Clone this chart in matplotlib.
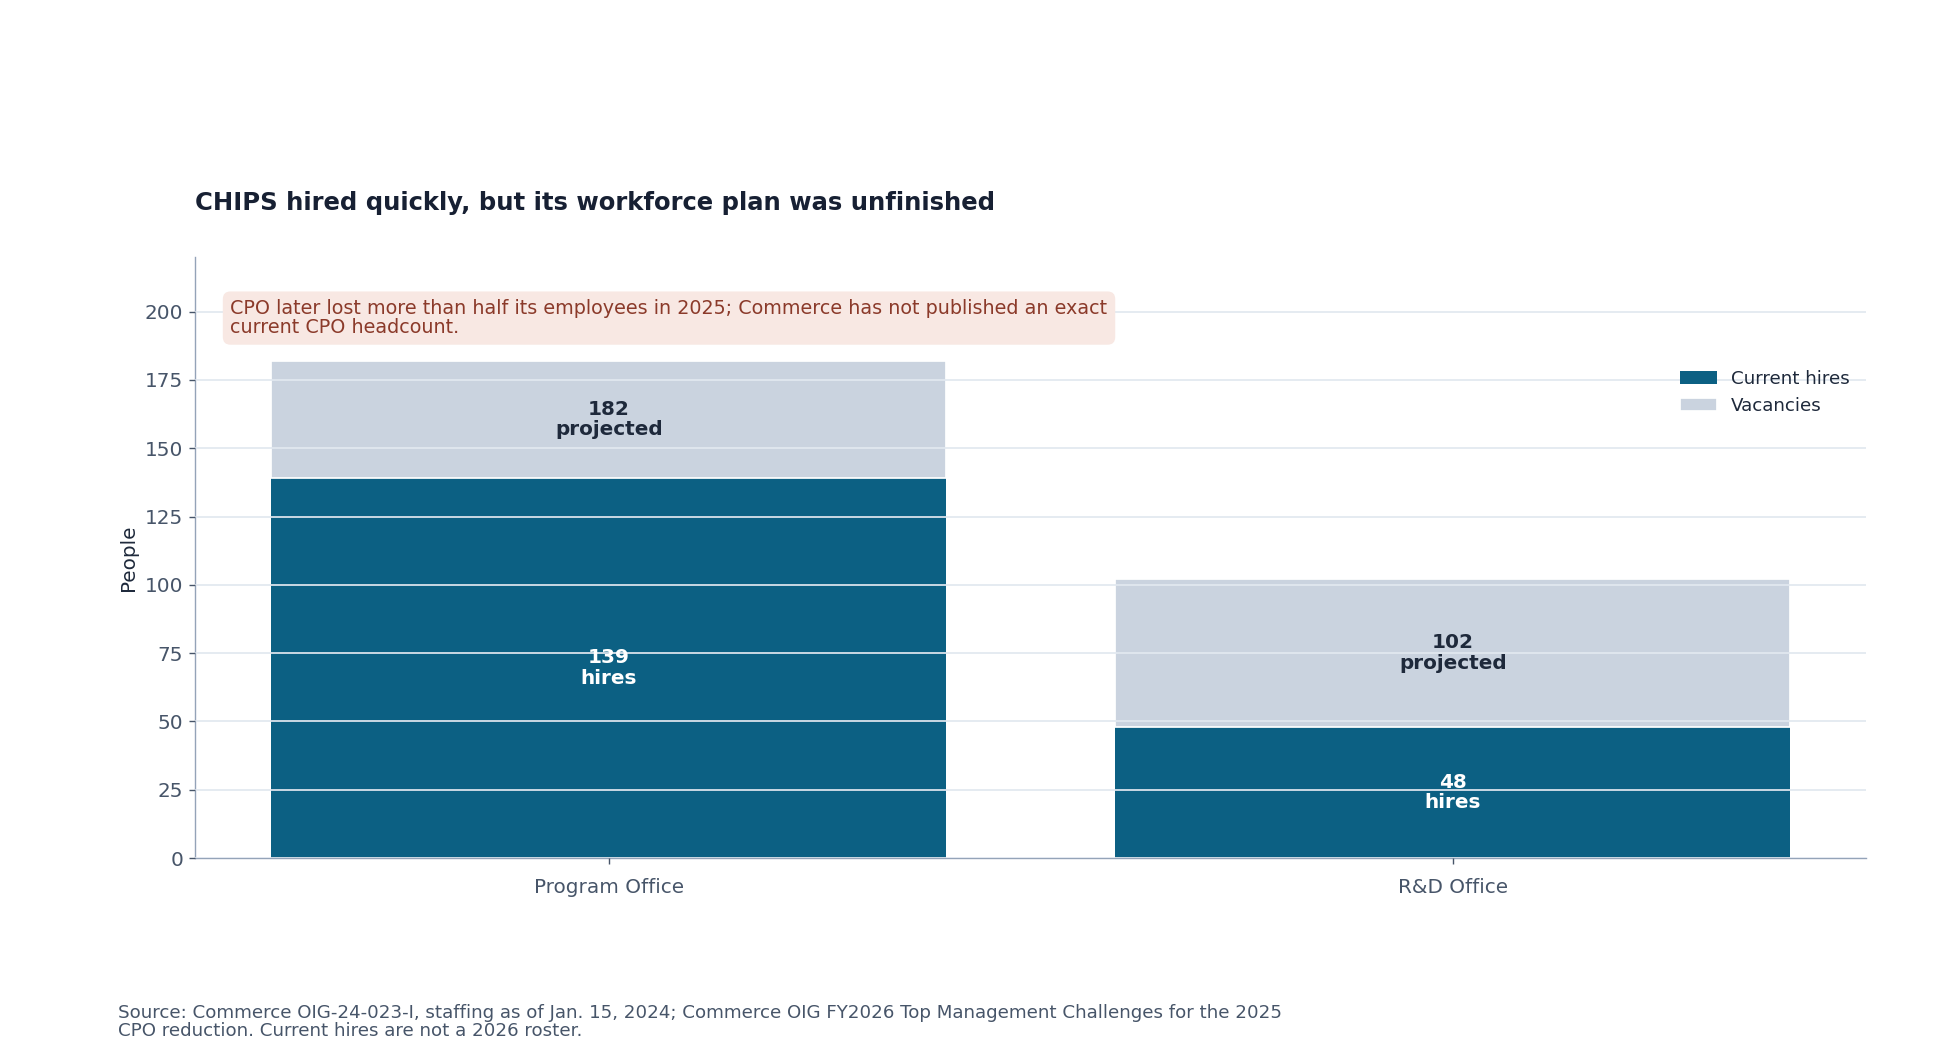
import matplotlib
matplotlib.use("Agg")
import matplotlib.pyplot as plt
import numpy as np

categories = ["Program Office", "R&D Office"]
hires = [139, 48]
projected = [182, 102]
vacancies = [p - h for p, h in zip(projected, hires)]

fig = plt.figure(figsize=(15.552, 8.496), dpi=125)
ax = fig.add_axes([0.1005, 0.192, 0.8595, 0.566])
x = np.arange(len(categories))
c_h, c_v = "#0c6083", "#cad3df"
ax.bar(x, hires, 0.8, color=c_h, label="Current hires", zorder=1)
ax.bar(x, vacancies, 0.8, bottom=hires, color=c_v, label="Vacancies", zorder=1,
       edgecolor="white", linewidth=1)
ax.set_axisbelow(False)
ax.yaxis.grid(True, color="#e2e8f0", linewidth=1, zorder=2)
ax.set_ylim(0, 220)
ax.set_xlim(-0.49, 1.49)
ax.set_yticks(range(0, 201, 25))
ax.set_xticks(x, categories)
ax.tick_params(labelsize=11.5, colors="#475569")
ax.tick_params(axis="x", pad=8)
for s in ["top", "right"]:
    ax.spines[s].set_visible(False)
for s in ["left", "bottom"]:
    ax.spines[s].set_color("#94a3b8")
ax.set_ylabel("People", fontsize=11.5, color="#1e293b")

for i in range(len(categories)):
    ax.text(x[i], hires[i] / 2, f"{hires[i]}\nhires", ha="center", va="center",
            color="white", fontsize=11.5, fontweight="bold", linespacing=1.1, zorder=3)
    ax.text(x[i], (hires[i] + projected[i]) / 2, f"{projected[i]}\nprojected", ha="center",
            va="center", color="#1e293b", fontsize=11.5, fontweight="bold", linespacing=1.1, zorder=3)

ax.text(0.021, 0.93, "CPO later lost more than half its employees in 2025; Commerce has not published an exact\ncurrent CPO headcount.",
        transform=ax.transAxes, ha="left", va="top", fontsize=11, color="#8b3a2a", linespacing=1.0,
        bbox=dict(boxstyle="round,pad=0.4", facecolor="#f8e8e3", edgecolor="none"), zorder=4)

leg = ax.legend(loc="upper right", bbox_to_anchor=(1.0, 0.84), frameon=False, fontsize=10.5)
for t in leg.get_texts():
    t.set_color("#1e293b")

fig.text(0.1005, 0.809, "CHIPS hired quickly, but its workforce plan was unfinished", fontsize=14,
         fontweight="bold", color="#172033", ha="left", va="center")
fig.text(0.0606, 0.055, "Source: Commerce OIG-24-023-I, staffing as of Jan. 15, 2024; Commerce OIG FY2026 Top Management Challenges for the 2025\nCPO reduction. Current hires are not a 2026 roster.",
         fontsize=10.5, color="#475569", ha="left", va="top", linespacing=1.0)
fig.savefig("out.png", dpi=125)
